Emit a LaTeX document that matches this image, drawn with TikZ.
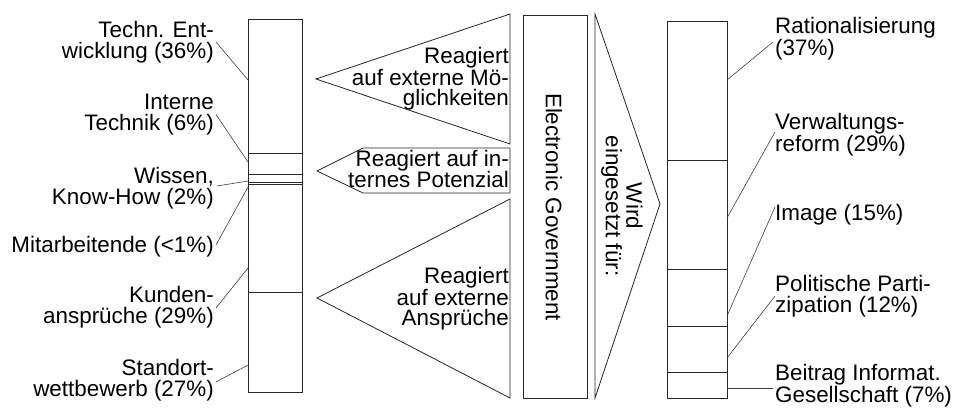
\documentclass[tikz,border=0pt]{standalone}
\usepackage{fontspec}
\setmainfont{Liberation Sans}
\begin{document}
\begin{tikzpicture}[x=1pt,y=-1pt,
  shp/.style={draw=black!85,line width=0.8pt},
  lead/.style={draw=black!75,line width=0.6pt},
  lbl/.style={inner sep=0pt,font=\fontsize{22.4}{20.5}\selectfont},
  lft/.style={lbl,align=right,anchor=east},
  rgt/.style={lbl,align=left,anchor=west}]
\useasboundingbox (0,0) rectangle (954,409);
% left bar
\draw[shp] (248,19) rectangle (302,392);
\foreach \y in {153,174.5,182,184,292} \draw[shp] (248,\y) -- (302,\y);
% right bar
\draw[shp] (667,21) rectangle (727,398);
\foreach \y in {160,269,326,372} \draw[shp] (667,\y) -- (727,\y);
% triangles
\draw[shp] (510,14) -- (316,79) -- (510,144) -- cycle;
\draw[shp] (363,148) -- (510,148) -- (510,193) -- (363,193) -- (317,171) -- cycle;
\draw[shp] (510,199) -- (317,298) -- (510,398) -- cycle;
\draw[shp] (523,15) rectangle (587,398);
\draw[shp] (595,14) -- (660,204) -- (595,398) -- cycle;
% texts in shapes
\node[lbl,align=right,anchor=east] (t1) at (509,79) {Reagiert\\auf externe Mö-\\glichkeiten};
\node[lbl,align=right,anchor=east] (t2) at (509,169) {Reagiert auf in-\\ternes Potenzial};
\node[lbl,align=right,anchor=east] (t3) at (509,299) {Reagiert\\auf externe\\Ansprüche};
\node[lbl,rotate=-90] (eg) at (554,207) {Electronic Government};
\node[lbl,rotate=-90,align=center] (w) at (622,206) {Wird\\eingesetzt für:};
% left labels
\node[lft] (l1) at (214,42) {Techn. Ent-\\wicklung (36\%)};
\node[lft] (l2) at (214,114.5) {Interne\\Technik (6\%)};
\node[lft] (l3) at (214,188) {Wissen,\\Know-How (2\%)};
\node[lft] (l4) at (214,247) {Mitarbeitende (<1\%)};
\node[lft] (l5) at (214,307) {Kunden-\\ansprüche (29\%)};
\node[lft] (l6) at (214,380) {Standort-\\wettbewerb (27\%)};
\coordinate (a1) at (248,80);
\coordinate (a2) at (248,162);
\coordinate (a3) at (248,181);
\coordinate (a4) at (248,187);
\coordinate (a5) at (248,268);
\coordinate (a6) at (248,365);
\draw[lead] ([xshift=2pt]l1.east) -- (a1);
\draw[lead] ([xshift=2pt]l2.east) -- (a2);
\draw[lead] ([xshift=3pt,yshift=2pt]l3.east) -- (a3);
\draw[lead] ([xshift=2pt,yshift=2pt]l4.east) -- (a4);
\draw[lead] ([xshift=2pt,yshift=-1pt]l5.east) -- (a5);
\draw[lead] ([xshift=2pt,yshift=-2pt]l6.east) -- (a6);
% right labels
\node[rgt] (r1) at (775,39) {Rationalisierung\\(37\%)};
\node[rgt] (r2) at (775,135) {Verwaltungs-\\reform (29\%)};
\node[rgt] (r3) at (775,215) {Image (15\%)};
\node[rgt] (r4) at (775,296) {Politische Parti-\\zipation (12\%)};
\node[rgt] (r5) at (775,386) {Beitrag Informat.\\Gesellschaft (7\%)};
\coordinate (c1) at (727,80);
\coordinate (c2) at (727,218);
\coordinate (c3) at (727,316);
\coordinate (c4) at (727,358);
\coordinate (c5) at (727,388);
\draw[lead] ([xshift=-2pt,yshift=-3pt]r1.west) -- (c1);
\draw[lead] ([yshift=3pt]r2.west) -- (c2);
\draw[lead] ([yshift=8pt]r3.west) -- (c3);
\draw[lead] (r4.west) -- (c4);
\draw[lead] ([xshift=-2pt,yshift=-2pt]r5.west) -- (c5);
\end{tikzpicture}
\end{document}
